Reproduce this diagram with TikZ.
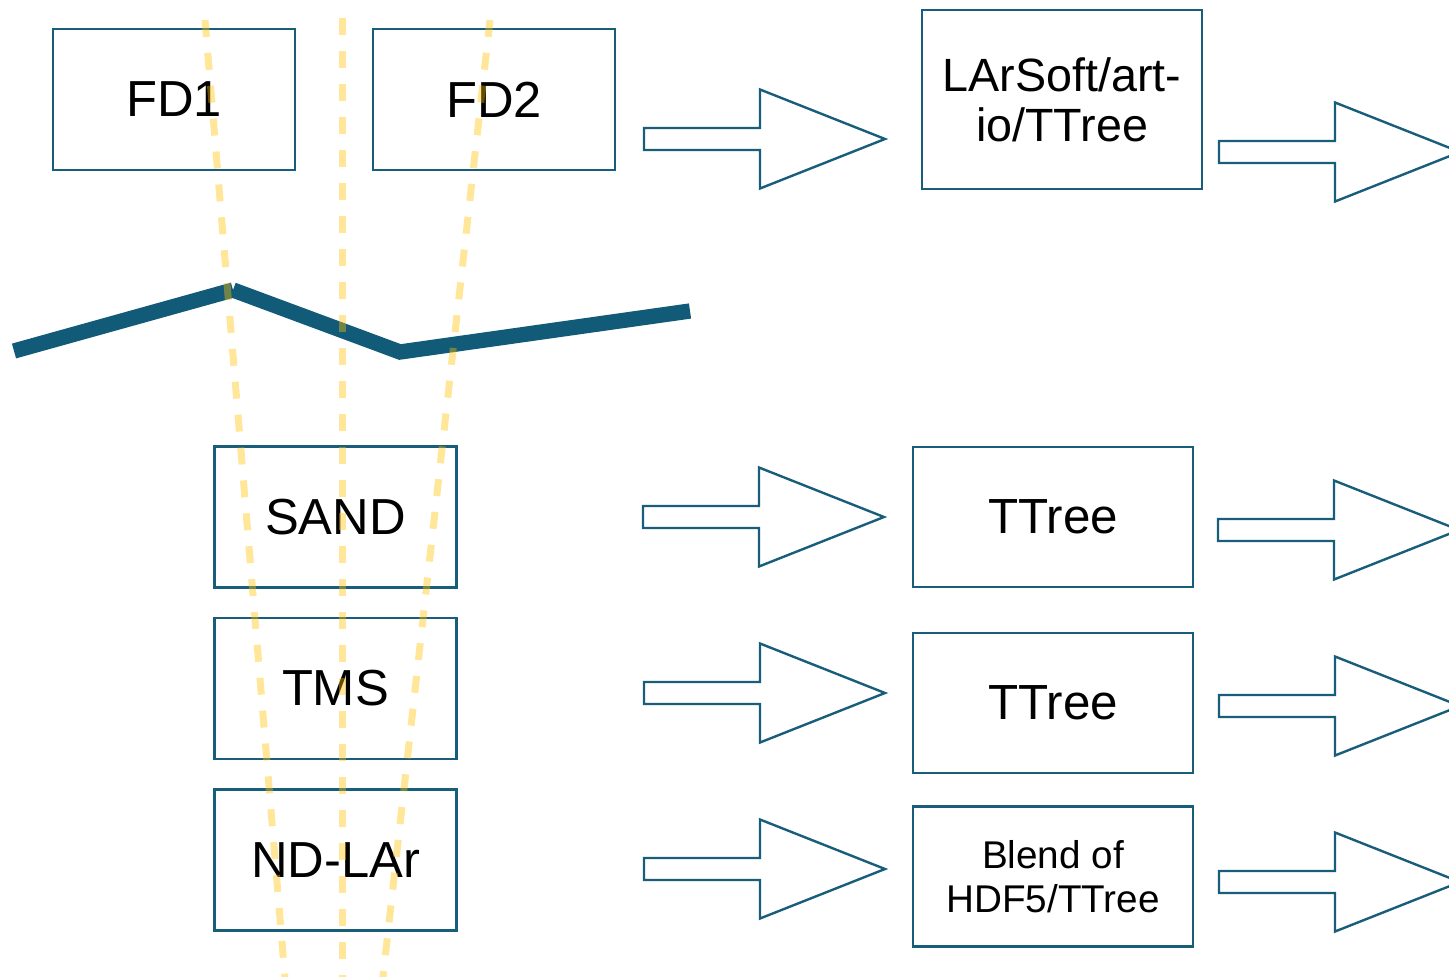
\documentclass[tikz,border=0pt]{standalone}
\usepackage{fontspec}
\setmainfont{Liberation Sans}
\usetikzlibrary{positioning}
\definecolor{boxblue}{RGB}{24,94,122}
\definecolor{barblue}{RGB}{17,91,120}
\definecolor{beamyellow}{RGB}{255,192,0}

\begin{document}
\begin{tikzpicture}[x=0.75pt, y=-0.75pt,
		det/.style={draw=boxblue, line width=1.8pt, minimum width=181.5pt, minimum height=105.75pt, inner sep=0pt, align=center, font=\fontsize{38}{42}\selectfont},
		fmt/.style={det, minimum width=210pt, minimum height=105.25pt, font=\fontsize{37}{42}\selectfont},
		beam/.style={beamyellow, opacity=0.4, line width=5.25pt, dash pattern=on 12.75pt off 12pt},
		blockarrow/.pic={\draw[boxblue, line width=1.8pt, fill=white] (0,-11) -- (116,-11) -- (116,-49.5) -- (241,0) -- (116,49.5) -- (116,11) -- (0,11) -- cycle;}]
		% Beeldvlak vastleggen
		\clip (0,0) rectangle (1449,977);

		% Verre detectoren
		\node[det] (fd1) at (174,99.5) {FD1};
		\node[det] (fd2) at (494,99.5) {FD2};

		% Nabije detectoren
		\node[det] (sand) at (335.5,517) {SAND};
		\node[det, below=21pt of sand] (tms) {TMS};
		\node[det, below=21pt of tms] (ndlar) {ND-LAr};

		% Bestandsformaten
		\node[fmt, minimum height=134.25pt, font=\fontsize{35}{37.5}\selectfont] (larsoft) at (1062,99.5) {LArSoft/art-\\io/TTree};
		\node[fmt] (ttreesand) at (1053,517) {TTree};
		\node[fmt] (ttreetms) at (1053,703) {TTree};
		\node[fmt, font=\fontsize{29}{33}\selectfont] (blend) at (1053,876.5) {Blend of\\HDF5/TTree};

		% Blokpijlen
		\pic at (644,139) {blockarrow};
		\pic at (1219,152) {blockarrow};
		\pic at (643,517) {blockarrow};
		\pic at (1218,530) {blockarrow};
		\pic at (644,693) {blockarrow};
		\pic at (1219,706) {blockarrow};
		\pic at (644,869) {blockarrow};
		\pic at (1219,882) {blockarrow};

		% Dikke scheidingslijn
		\draw[barblue, line width=11.5pt] (14,351) -- (233,290);
		\draw[barblue, line width=11.5pt, line join=miter] (233,290) -- (400,352) -- (690,311);

		% Gele bundellijnen (bovenop)
		\draw[beam] (205,20) -- (286,990);
		\draw[beam] (342,18) -- (342,990);
		\draw[beam] (490,20) -- (381.5,990);
	\end{tikzpicture}
\end{document}
